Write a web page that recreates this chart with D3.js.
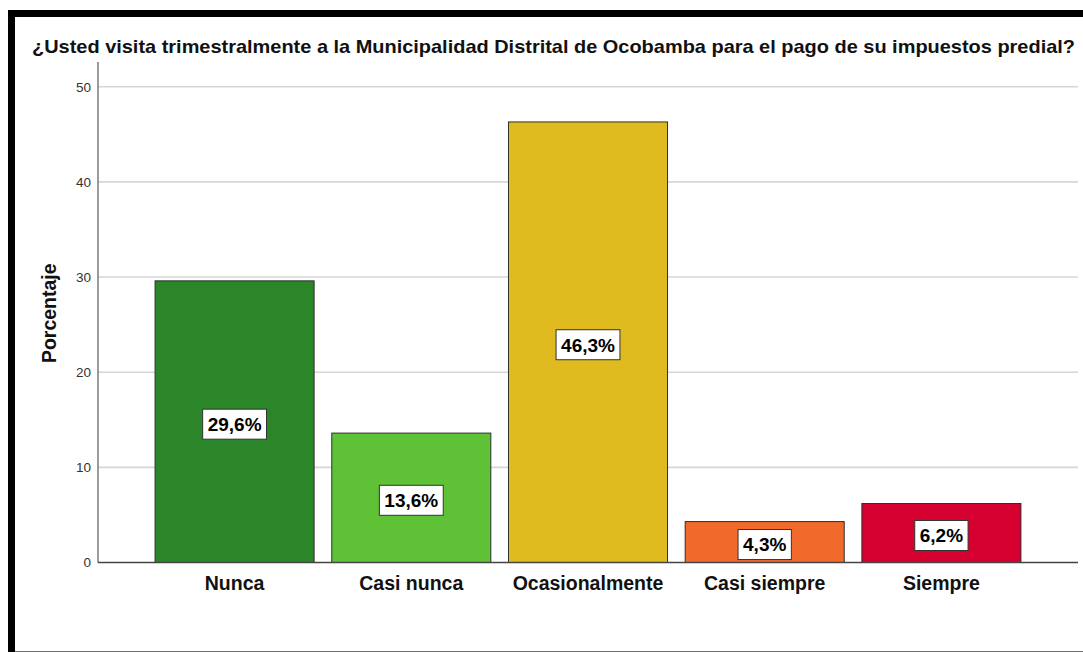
<!DOCTYPE html>
<html lang="es">
<head>
  <meta charset="UTF-8" />
  <title>Visitas trimestrales - Municipalidad Distrital de Ocobamba</title>
  <script src="https://d3js.org/d3.v7.min.js"></script>
  <style>
    body {
      margin: 0;
      background: #fff;
      font-family: "Liberation Sans", Arial, sans-serif;
    }

    svg {
      display: block;
    }

    .tick-label {
      font-size: 13.5px;
      fill: #333;
    }

    .cat-label {
      font-size: 19.5px;
      font-weight: bold;
      fill: #111;
    }

    .value-label {
      font-size: 19px;
      font-weight: bold;
      fill: #000;
    }
  </style>
</head>
<body>
  <svg id="chart" width="1083" height="652"></svg>

  <script>
    // data
    const categories = ["Nunca", "Casi nunca", "Ocasionalmente", "Casi siempre", "Siempre"];
    const percentages = [29.6, 13.6, 46.3, 4.3, 6.2];
    const barColors = ["#2a8629", "#5fc236", "#e0bb1f", "#f2692c", "#d5002f"];
    const yTicks = [0, 10, 20, 30, 40, 50];

    const titleText = "¿Usted visita trimestralmente a la Municipalidad Distrital de Ocobamba para el pago de su impuestos predial?";
    const yAxisTitle = "Porcentaje";

    const width = 1083, height = 652;
    const plot = { left: 98, right: 1078, top: 62, bottom: 562.5 };

    const svg = d3.select("#chart");

    // frame: thick black top/left, thin grey bottom
    svg.append("rect").attr("x", 8).attr("y", 10).attr("width", width - 8).attr("height", 7).attr("fill", "#000");
    svg.append("rect").attr("x", 8).attr("y", 10).attr("width", 7).attr("height", height - 10).attr("fill", "#000");
    svg.append("line")
      .attr("x1", 15).attr("x2", width)
      .attr("y1", 651.5).attr("y2", 651.5)
      .attr("stroke", "#6b6b6b").attr("stroke-width", 1);

    // title
    svg.append("text")
      .attr("x", 32)
      .attr("y", 52.5)
      .attr("font-size", "18.5px")
      .attr("font-weight", "bold")
      .attr("fill", "#111")
      .attr("textLength", 1043)
      .attr("lengthAdjust", "spacingAndGlyphs")
      .text(titleText);

    const x = d3.scaleBand()
      .domain(categories)
      .range([plot.left, plot.right])
      .paddingInner(0.1)
      .paddingOuter(0.323);

    const y = d3.scaleLinear()
      .domain([0, 52.6])
      .range([plot.bottom, plot.top]);

    // gridlines
    svg.append("g")
      .selectAll("line")
      .data(yTicks.filter(t => t > 0))
      .join("line")
      .attr("x1", plot.left)
      .attr("x2", plot.right)
      .attr("y1", d => y(d))
      .attr("y2", d => y(d))
      .attr("stroke", "#d6d6d6")
      .attr("stroke-width", 1.6);

    // tick labels
    svg.append("g")
      .selectAll("text")
      .data(yTicks)
      .join("text")
      .attr("class", "tick-label")
      .attr("x", plot.left - 7)
      .attr("y", d => y(d))
      .attr("dy", "0.36em")
      .attr("text-anchor", "end")
      .text(d => d);

    // y axis line
    svg.append("line")
      .attr("x1", plot.left).attr("x2", plot.left)
      .attr("y1", plot.top).attr("y2", plot.bottom)
      .attr("stroke", "#7a7a7a")
      .attr("stroke-width", 1.5);

    // y axis title
    svg.append("text")
      .attr("transform", `translate(55.5,${(plot.bottom + plot.top) / 2 + 1}) rotate(-90)`)
      .attr("text-anchor", "middle")
      .attr("font-size", "19.5px")
      .attr("font-weight", "bold")
      .attr("fill", "#111")
      .text(yAxisTitle);

    const rows = categories.map((c, i) => ({ cat: c, value: percentages[i], color: barColors[i] }));

    // bars
    svg.append("g")
      .selectAll("rect")
      .data(rows)
      .join("rect")
      .attr("x", d => x(d.cat))
      .attr("y", d => y(d.value))
      .attr("width", x.bandwidth())
      .attr("height", d => y(0) - y(d.value))
      .attr("fill", d => d.color)
      .attr("stroke", "#2e2e2e")
      .attr("stroke-width", 1);

    // x axis baseline
    svg.append("line")
      .attr("x1", plot.left).attr("x2", plot.right)
      .attr("y1", y(0)).attr("y2", y(0))
      .attr("stroke", "#444")
      .attr("stroke-width", 1.5);

    // category labels
    svg.append("g")
      .selectAll("text")
      .data(categories)
      .join("text")
      .attr("class", "cat-label")
      .attr("x", d => x(d) + x.bandwidth() / 2)
      .attr("y", 590)
      .attr("text-anchor", "middle")
      .text(d => d);

    // value labels in white boxes
    const labels = svg.append("g")
      .selectAll("g")
      .data(rows)
      .join("g")
      .attr("transform", d => `translate(${x(d.cat) + x.bandwidth() / 2},${(y(d.value) + y(0)) / 2 + 2.5})`);

    const boxes = labels.append("rect")
      .attr("fill", "#fff")
      .attr("stroke", "#333")
      .attr("stroke-width", 1);

    labels.append("text")
      .attr("class", "value-label")
      .attr("text-anchor", "middle")
      .attr("dy", "0.36em")
      .text(d => d.value.toFixed(1).replace(".", ",") + "%");

    labels.each(function () {
      const g = d3.select(this);
      const w = g.select("text").node().getComputedTextLength() + 10;
      const h = 30;
      g.select("rect")
        .attr("x", -w / 2)
        .attr("y", -h / 2)
        .attr("width", w)
        .attr("height", h);
    });
  </script>
</body>
</html>
